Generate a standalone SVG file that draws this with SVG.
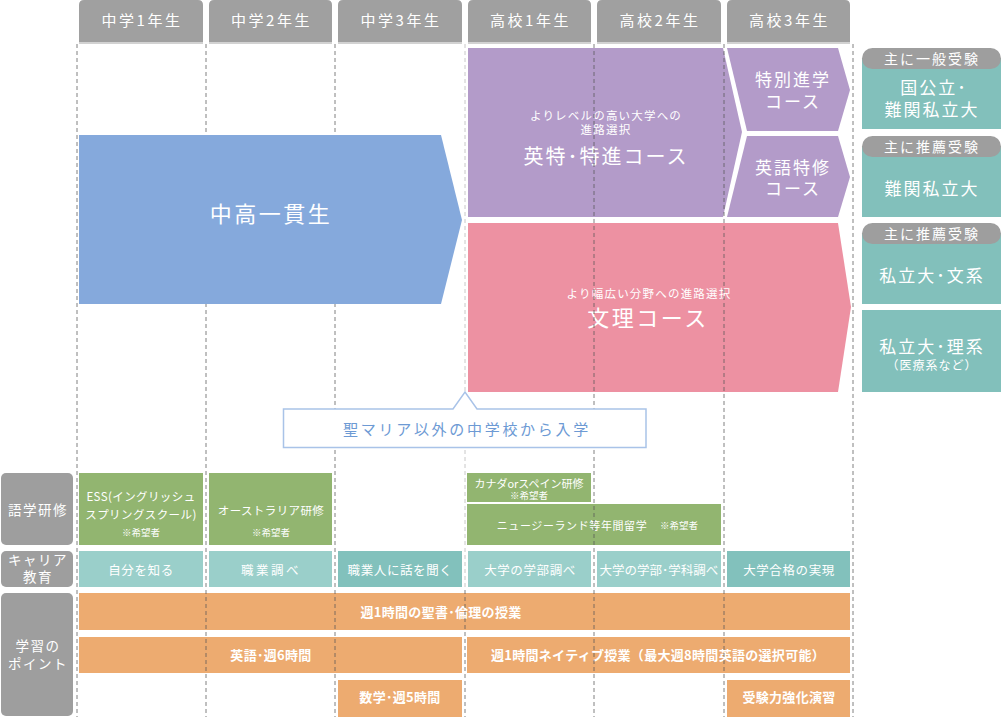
<svg xmlns="http://www.w3.org/2000/svg" width="1001" height="717" viewBox="0 0 1001 717">
<style>
text{font-family:"Noto Sans CJK JP","Noto Sans",sans-serif;fill:#fff;text-anchor:middle}
.hd{font-size:15px;letter-spacing:2.5px}
.hdbox{fill:#a0a0a0}
.hdline{stroke:#d2d2d2;stroke-width:2}
.lbl{fill:#9e9e9e}
.lt{font-size:13.5px;letter-spacing:1.5px}
.grid{stroke:#555;stroke-opacity:.75;stroke-width:1;stroke-dasharray:4 3;fill:none}
.gridl{stroke:#c8c8c8;stroke-width:1;stroke-dasharray:4 3;fill:none}
.blue{fill:#85a9dc}
.purple{fill:#b39bc9}
.pink{fill:#ed91a2}
.teal{fill:#82c0bb}
.pill{fill:#9e9e9e}
.green{fill:#92b570}
.c1{fill:#9acfca}
.c2{fill:#82c1bc}
.orange{fill:#edab70}
.big{font-size:22px;letter-spacing:2.5px}
.mid{font-size:20px;letter-spacing:2px}
.sm{font-size:11.5px;letter-spacing:1.2px}
.sub{font-size:17px;letter-spacing:2px}
.pt{font-size:14px;letter-spacing:2px}
.rt{font-size:17px;letter-spacing:2px}
.note{font-size:12px;letter-spacing:1px}
.gt{font-size:11.5px;letter-spacing:0.4px}
.gs{font-size:11px;letter-spacing:0}
.hope{font-size:9.5px;letter-spacing:0}
.ct{font-size:12.5px;letter-spacing:0.6px}
.ot{font-size:13px;font-weight:bold;letter-spacing:0.3px}
.call{fill:#fff;stroke:#a9c3e8;stroke-width:1.5}
.callt{font-size:15px;letter-spacing:2.7px;fill:#6d9ad4}
</style>

<g id="headers">
<path class="hdbox" d="M79,42V5Q79,0 84,0H198Q203,0 203,5V42Z"/>
<path class="hdbox" d="M209,42V5Q209,0 214,0H327Q332,0 332,5V42Z"/>
<path class="hdbox" d="M338,42V5Q338,0 343,0H457Q462,0 462,5V42Z"/>
<path class="hdbox" d="M468,42V5Q468,0 473,0H586Q591,0 591,5V42Z"/>
<path class="hdbox" d="M597,42V5Q597,0 602,0H716Q721,0 721,5V42Z"/>
<path class="hdbox" d="M727,42V5Q727,0 732,0H845Q850,0 850,5V42Z"/>
<path class="hdline" d="M79,43H203M209,43H332M338,43H462M468,43H591M597,43H721M727,43H850"/>
<text class="hd" x="142" y="26">中学1年生</text>
<text class="hd" x="271.5" y="26">中学2年生</text>
<text class="hd" x="401" y="26">中学3年生</text>
<text class="hd" x="530.5" y="26">高校1年生</text>
<text class="hd" x="660" y="26">高校2年生</text>
<text class="hd" x="789.5" y="26">高校3年生</text>
</g>

<g id="course-tokutoku">
<path class="purple" d="M468,48H723L742,132L723,217H468Z"/>
<text class="sm" x="606" y="120">よりレベルの高い大学への</text>
<text class="sm" x="606" y="134">進路選択</text>
<text class="mid" x="606" y="164">英特･特進コース</text>
</g>
<g id="course-tokubetsu">
<path class="purple" d="M727,48H838L850,90L838,131H747Z"/>
<text class="sub" x="793" y="86">特別進学</text>
<text class="sub" x="793" y="108">コース</text>
</g>
<g id="course-eigo">
<path class="purple" d="M747,136H838L850,177L838,217H727Z"/>
<text class="sub" x="793" y="174">英語特修</text>
<text class="sub" x="793" y="195">コース</text>
</g>
<g id="course-bunri">
<path class="pink" d="M468,223H838L851,307L838,392H468Z"/>
<text class="sm" x="649" y="298">より幅広い分野への進路選択</text>
<text class="big" x="648" y="326">文理コース</text>
</g>

<g id="labels">
<rect class="lbl" x="1" y="473" width="72" height="72" rx="5"/>
<rect class="lbl" x="1" y="551" width="72" height="36" rx="5"/>
<rect class="lbl" x="1" y="593" width="72" height="123" rx="5"/>
<text class="lt" x="38" y="515">語学研修</text>
<text class="lt" x="38" y="565">キャリア</text>
<text class="lt" x="38" y="582">教育</text>
<text class="lt" x="38" y="651">学習の</text>
<text class="lt" x="38" y="668.5">ポイント</text>
</g>

<g id="language">
<rect class="green" x="79" y="473" width="124" height="72"/>
<text class="gt" x="141" y="500.5">ESS(イングリッシュ</text>
<text class="gt" x="141" y="518.5">スプリングスクール)</text>
<text class="hope" x="141" y="535.5">※希望者</text>
<rect class="green" x="209" y="473" width="123" height="72"/>
<text class="gt" x="271" y="514.5">オーストラリア研修</text>
<text class="hope" x="271" y="535.5">※希望者</text>
<rect class="green" x="467" y="473" width="124" height="29"/>
<text class="gs" x="529" y="487.5">カナダorスペイン研修</text>
<text class="hope" x="529" y="499">※希望者</text>
<rect class="green" x="467" y="504" width="254" height="41"/>
<text class="gs" x="572" y="529.5" style="letter-spacing:0.6px">ニュージーランド等年間留学</text>
<text class="hope" x="679" y="529">※希望者</text>
</g>

<g id="career">
<rect class="c1" x="79" y="551" width="124" height="36"/>
<rect class="c1" x="209" y="551" width="123" height="36"/>
<rect class="c2" x="338" y="551" width="124" height="36"/>
<rect class="c1" x="468" y="551" width="123" height="36"/>
<rect class="c1" x="597" y="551" width="124" height="36"/>
<rect class="c2" x="727" y="551" width="123" height="36"/>
<text class="ct" x="141" y="574.5">自分を知る</text>
<text class="ct" x="271" y="574.5" style="letter-spacing:2.5px">職業調べ</text>
<text class="ct" x="400" y="574.5">職業人に話を聞く</text>
<text class="ct" x="530" y="574.5">大学の学部調べ</text>
<text class="ct" x="659" y="574.5" style="letter-spacing:0">大学の学部･学科調べ</text>
<text class="ct" x="789" y="574.5">大学合格の実現</text>
</g>

<g id="points">
<rect class="orange" x="79" y="593" width="771" height="37"/>
<text class="ot" x="441" y="616.5">週1時間の聖書･倫理の授業</text>
<rect class="orange" x="79" y="637" width="383" height="36"/>
<text class="ot" x="271" y="660">英語･週6時間</text>
<rect class="orange" x="467" y="637" width="383" height="36"/>
<text class="ot" x="658" y="660">週1時間ネイティブ授業（最大週8時間英語の選択可能）</text>
<rect class="orange" x="338" y="680" width="124" height="37"/>
<text class="ot" x="400" y="702">数学･週5時間</text>
<rect class="orange" x="727" y="680" width="123" height="37"/>
<text class="ot" x="789" y="702">受験力強化演習</text>
</g>

<g id="connectors">
<path class="grid" d="M77,44V717M206,44V717M335,44V717M465,590V717M594,44V717M724,44V717M853,44V717"/>
<path class="gridl" d="M465,44V590"/>
</g>

<g id="chukou">
<path class="blue" d="M79,135H441L462,220L441,304H79Z"/>
<text class="big" x="271" y="222">中高一貫生</text>
</g>

<g id="callout">
<path class="call" d="M283.5,409H453L465,392L477,409H646V447.5H283.5Z"/>
<text class="callt" x="467" y="435">聖マリア以外の中学校から入学</text>
</g>

<g id="dest-1">
<rect class="teal" x="862" y="58" width="139" height="71"/>
<rect class="pill" x="862" y="48" width="139" height="21" rx="10.5"/>
<text class="pt" x="932" y="64">主に一般受験</text>
<text class="rt" x="934" y="94">国公立･</text>
<text class="rt" x="932" y="116">難関私立大</text>
</g>
<g id="dest-2">
<rect class="teal" x="862" y="146" width="139" height="71"/>
<rect class="pill" x="862" y="136" width="139" height="21" rx="10.5"/>
<text class="pt" x="932" y="152">主に推薦受験</text>
<text class="rt" x="932" y="195">難関私立大</text>
</g>
<g id="dest-3">
<rect class="teal" x="862" y="233" width="139" height="71"/>
<rect class="pill" x="862" y="223" width="139" height="21" rx="10.5"/>
<text class="pt" x="932" y="239">主に推薦受験</text>
<text class="rt" x="932" y="282">私立大･文系</text>
</g>
<g id="dest-4">
<rect class="teal" x="862" y="310" width="139" height="82"/>
<text class="rt" x="932" y="353">私立大･理系</text>
<text class="note" x="932" y="370">（医療系など）</text>
</g>
</svg>
